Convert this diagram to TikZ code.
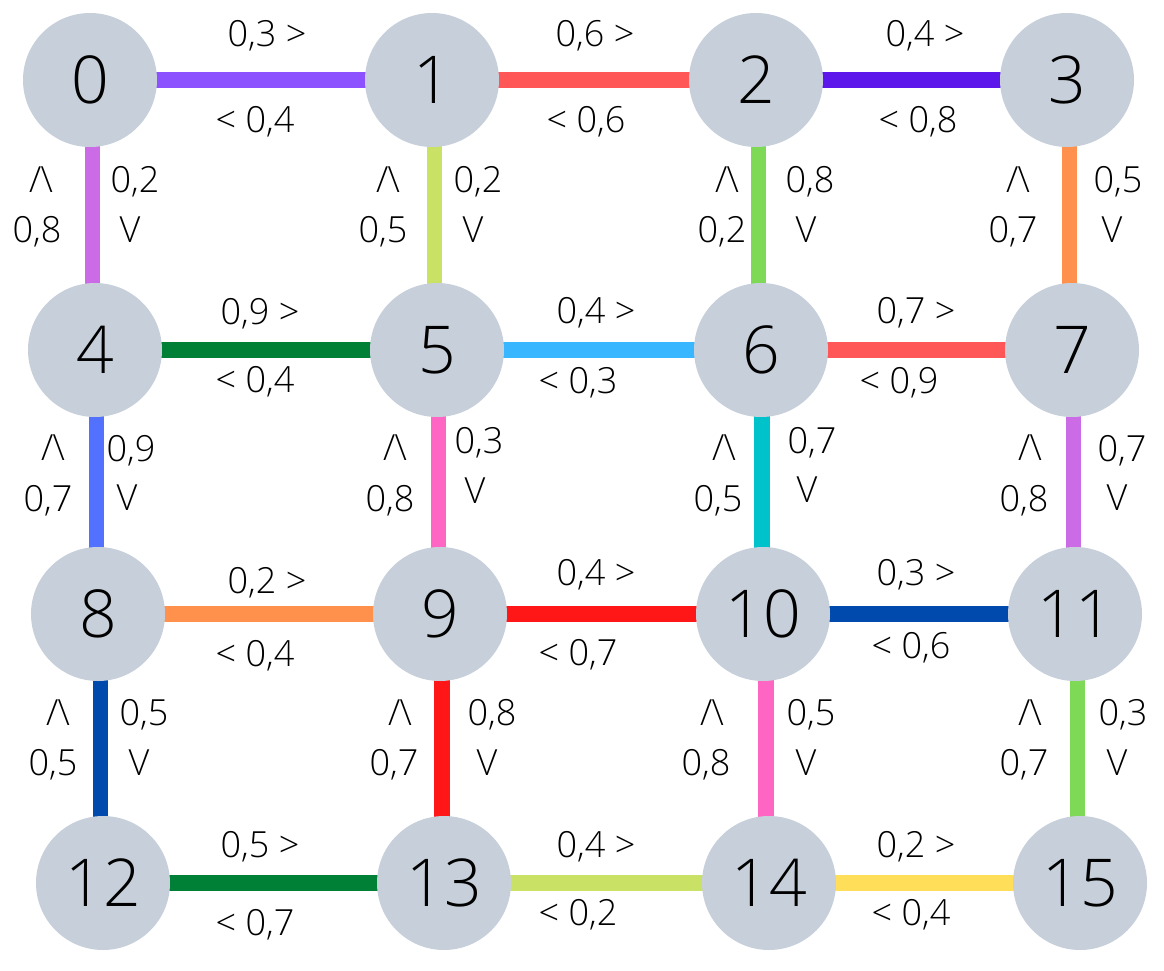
\documentclass[tikz,border=0pt]{standalone}
\usepackage{fontspec}
\setmainfont{Open Sans Light}
\usetikzlibrary{backgrounds,calc}
\definecolor{nodegray}{HTML}{C7D0DA}
\definecolor{cPurple}{HTML}{8C52FF}
\definecolor{cSalmon}{HTML}{FF5757}
\definecolor{cViolet}{HTML}{5E17EB}
\definecolor{cOrchid}{HTML}{CB6CE6}
\definecolor{cLime}{HTML}{C9E265}
\definecolor{cGreen}{HTML}{7ED957}
\definecolor{cOrange}{HTML}{FF914D}
\definecolor{cDkGreen}{HTML}{008037}
\definecolor{cSky}{HTML}{38B6FF}
\definecolor{cBlue}{HTML}{5271FF}
\definecolor{cPink}{HTML}{FF66C4}
\definecolor{cTeal}{HTML}{00C2CB}
\definecolor{cRed}{HTML}{FF1616}
\definecolor{cNavy}{HTML}{004AAD}
\definecolor{cYellow}{HTML}{FFDE59}
\newcommand\caretsym{/\kern-1pt\textbackslash}
% vertical connector between two named nodes, kept upright at their mean x
\newcommand\vedge[3]{%
  \coordinate (m#1#2) at ($(#1.center)!0.5!(#2.center)$);
  \draw[edge, draw=#3] (m#1#2 |- #1.center) -- (m#1#2 |- #2.center);}
\tikzset{
  vertex/.style={circle, fill=nodegray, minimum size=134pt, inner sep=0pt,
    font=\fontsize{66}{70}\selectfont},
  edge/.style={line width=15.5pt},
  lab/.style={anchor=base, inner sep=0pt, font=\fontsize{36}{40}\selectfont},
}
\begin{document}
\begin{tikzpicture}[x=1pt,y=-1pt]
\useasboundingbox (0,0) rectangle (1164,971);
% vertices
\node[vertex] (n0) at (90,80) {0};
\node[vertex] (n1) at (432,80) {1};
\node[vertex] (n2) at (756,80) {2};
\node[vertex] (n3) at (1067,80) {3};
\node[vertex] (n4) at (95,350) {4};
\node[vertex] (n5) at (437,350) {5};
\node[vertex] (n6) at (761,350) {6};
\node[vertex] (n7) at (1072,350) {7};
\node[vertex] (n8) at (98,614) {8};
\node[vertex] (n9) at (440,614) {9};
\node[vertex] (n10) at (763,614) {10};
\node[vertex] (n11) at (1075,614) {11};
\node[vertex] (n12) at (103,883) {12};
\node[vertex] (n13) at (444,883) {13};
\node[vertex] (n14) at (769,883) {14};
\node[vertex] (n15) at (1080,883) {15};
% edges
\begin{scope}[on background layer]
\draw[edge, draw=cPurple] (n0.center) -- (n1.center);
\draw[edge, draw=cSalmon] (n1.center) -- (n2.center);
\draw[edge, draw=cViolet] (n2.center) -- (n3.center);
\draw[edge, draw=cDkGreen] (n4.center) -- (n5.center);
\draw[edge, draw=cSky] (n5.center) -- (n6.center);
\draw[edge, draw=cSalmon] (n6.center) -- (n7.center);
\draw[edge, draw=cOrange] (n8.center) -- (n9.center);
\draw[edge, draw=cRed] (n9.center) -- (n10.center);
\draw[edge, draw=cNavy] (n10.center) -- (n11.center);
\draw[edge, draw=cDkGreen] (n12.center) -- (n13.center);
\draw[edge, draw=cLime] (n13.center) -- (n14.center);
\draw[edge, draw=cYellow] (n14.center) -- (n15.center);
\vedge{n0}{n4}{cOrchid}
\vedge{n1}{n5}{cLime}
\vedge{n2}{n6}{cGreen}
\vedge{n3}{n7}{cOrange}
\vedge{n4}{n8}{cBlue}
\vedge{n5}{n9}{cPink}
\vedge{n6}{n10}{cTeal}
\vedge{n7}{n11}{cOrchid}
\vedge{n8}{n12}{cNavy}
\vedge{n9}{n13}{cRed}
\vedge{n10}{n14}{cPink}
\vedge{n11}{n15}{cGreen}
\end{scope}
% horizontal edge labels
\node[lab] (h01t) at (267,47) {0,3 >};
\node[lab] (h01b) at (255,132) {< 0,4};
\node[lab] (h12t) at (595,47) {0,6 >};
\node[lab] (h12b) at (586,132) {< 0,6};
\node[lab] (h23t) at (925,47) {0,4 >};
\node[lab] (h23b) at (918,132) {< 0,8};
\node[lab] (h45t) at (260,324) {0,9 >};
\node[lab] (h45b) at (255,392) {< 0,4};
\node[lab] (h56t) at (596,323) {0,4 >};
\node[lab] (h56b) at (578,393) {< 0,3};
\node[lab] (h67t) at (916,323) {0,7 >};
\node[lab] (h67b) at (899,393) {< 0,9};
\node[lab] (h89t) at (267,593) {0,2 >};
\node[lab] (h89b) at (255,666) {< 0,4};
\node[lab] (h910t) at (596,585) {0,4 >};
\node[lab] (h910b) at (578,665) {< 0,7};
\node[lab] (h1011t) at (916,585) {0,3 >};
\node[lab] (h1011b) at (911,658) {< 0,6};
\node[lab] (h1213t) at (260,857) {0,5 >};
\node[lab] (h1213b) at (255,935) {< 0,7};
\node[lab] (h1314t) at (596,857) {0,4 >};
\node[lab] (h1314b) at (578,925) {< 0,2};
\node[lab] (h1415t) at (916,857) {0,2 >};
\node[lab] (h1415b) at (911,925) {< 0,4};
% vertical edge labels
\node[lab] (v04ls) at (41,192) {\caretsym};
\node[lab] (v04ln) at (37,242) {0,8};
\node[lab] (v04rn) at (135,192) {0,2};
\node[lab] (v04rs) at (130,242) {V};
\node[lab] (v15ls) at (388,192) {\caretsym};
\node[lab] (v15ln) at (383,242) {0,5};
\node[lab] (v15rn) at (478,192) {0,2};
\node[lab] (v15rs) at (473,242) {V};
\node[lab] (v26ls) at (727,192) {\caretsym};
\node[lab] (v26ln) at (722,242) {0,2};
\node[lab] (v26rn) at (810,192) {0,8};
\node[lab] (v26rs) at (806,242) {V};
\node[lab] (v37ls) at (1018,192) {\caretsym};
\node[lab] (v37ln) at (1013,242) {0,7};
\node[lab] (v37rn) at (1118,192) {0,5};
\node[lab] (v37rs) at (1112,242) {V};
\node[lab] (v48ls) at (53,460) {\caretsym};
\node[lab] (v48ln) at (48,511) {0,7};
\node[lab] (v48rn) at (131,461) {0,9};
\node[lab] (v48rs) at (127,510) {V};
\node[lab] (v59ls) at (395,460) {\caretsym};
\node[lab] (v59ln) at (390,511) {0,8};
\node[lab] (v59rn) at (479,453) {0,3};
\node[lab] (v59rs) at (475,503) {V};
\node[lab] (v610ls) at (724,460) {\caretsym};
\node[lab] (v610ln) at (718,511) {0,5};
\node[lab] (v610rn) at (812,453) {0,7};
\node[lab] (v610rs) at (807,502) {V};
\node[lab] (v711ls) at (1030,460) {\caretsym};
\node[lab] (v711ln) at (1024,511) {0,8};
\node[lab] (v711rn) at (1122,461) {0,7};
\node[lab] (v711rs) at (1117,510) {V};
\node[lab] (v812ls) at (58,725) {\caretsym};
\node[lab] (v812ln) at (53,775) {0,5};
\node[lab] (v812rn) at (144,725) {0,5};
\node[lab] (v812rs) at (139,775) {V};
\node[lab] (v913ls) at (400,725) {\caretsym};
\node[lab] (v913ln) at (394,775) {0,7};
\node[lab] (v913rn) at (492,725) {0,8};
\node[lab] (v913rs) at (487,775) {V};
\node[lab] (v1014ls) at (712,725) {\caretsym};
\node[lab] (v1014ln) at (706,775) {0,8};
\node[lab] (v1014rn) at (811,725) {0,5};
\node[lab] (v1014rs) at (806,775) {V};
\node[lab] (v1115ls) at (1030,725) {\caretsym};
\node[lab] (v1115ln) at (1024,775) {0,7};
\node[lab] (v1115rn) at (1123,725) {0,3};
\node[lab] (v1115rs) at (1117,775) {V};
\end{tikzpicture}
\end{document}
